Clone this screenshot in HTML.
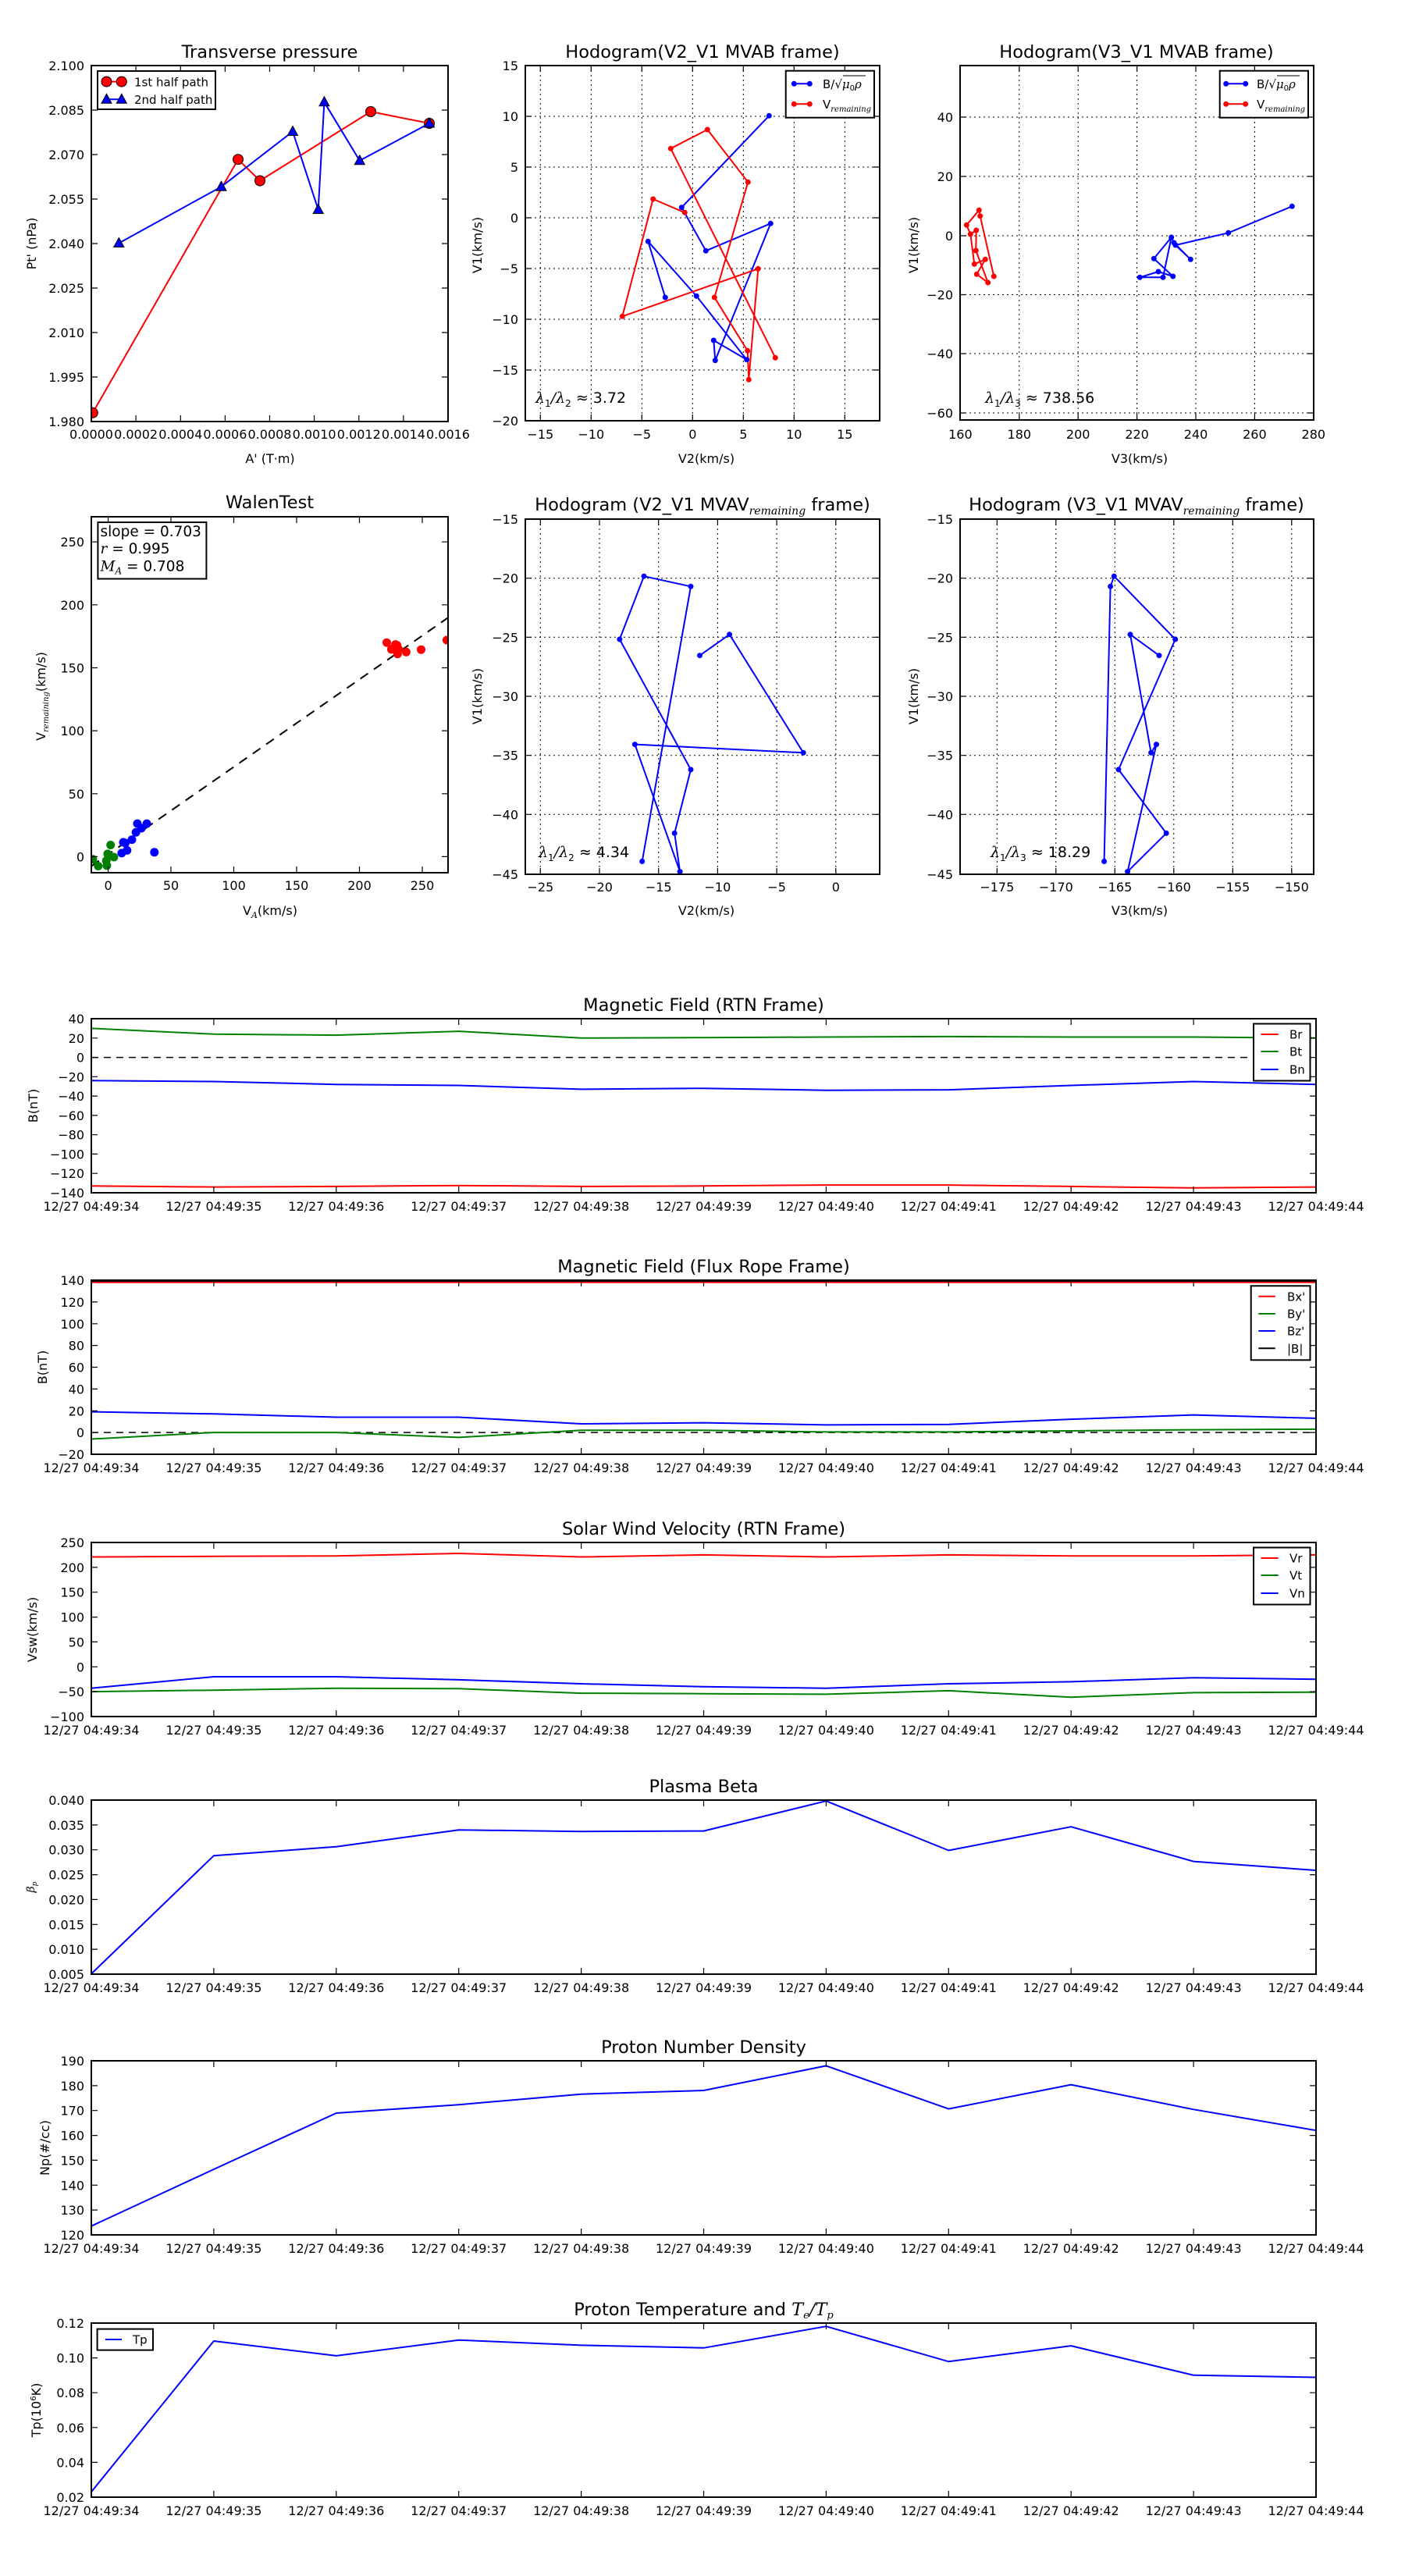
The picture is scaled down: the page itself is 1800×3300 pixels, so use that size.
<!DOCTYPE html>
<html><head><meta charset="utf-8"><style>
html,body{margin:0;padding:0;background:#fff}
svg{display:block}
text{font-family:"DejaVu Sans","Liberation Sans",sans-serif;fill:#000}
.t{font-size:22.5px;text-anchor:middle}
.k{font-size:16px}
.kx{font-size:16px;text-anchor:middle}
.ky{font-size:16px;text-anchor:end}
.lb{font-size:16px;text-anchor:middle}
.m{font-family:"DejaVu Serif","Liberation Serif",serif;font-style:italic}
.ax{fill:none;stroke:#000;stroke-width:2}
.tk{fill:none;stroke:#000;stroke-width:1.2}
.gr{fill:none;stroke:#000;stroke-width:1;stroke-dasharray:2,4}
.ln{fill:none;stroke-width:2;stroke-linejoin:round}
</style></head><body>
<svg width="1800" height="3300" viewBox="0 0 1800 3300" xmlns="http://www.w3.org/2000/svg">
<defs>
<clipPath id="c1"><rect x="117" y="84" width="457" height="456"/></clipPath>
<clipPath id="c4"><rect x="117" y="662" width="457" height="456"/></clipPath>
</defs>

<!-- ============ Plot 1: Transverse pressure ============ -->
<text class="t" x="345.5" y="74">Transverse pressure</text>
<g clip-path="url(#c1)">
<polyline class="ln" stroke="#f00" points="118.8,528.8 305,204.2 333,231.5 475,143 550,158"/>
<polyline class="ln" stroke="#00f" points="152.3,311.5 283.5,239.2 375,168.5 407.7,268.5 415.4,130.8 460.8,205.8 550,158"/>
<g fill="#f00" stroke="#000" stroke-width="1">
<circle cx="118.8" cy="528.8" r="6.5"/><circle cx="305" cy="204.2" r="6.5"/><circle cx="333" cy="231.5" r="6.5"/><circle cx="475" cy="143" r="6.5"/><circle cx="550" cy="158" r="6.5"/>
</g>
<g fill="#00f" stroke="#000" stroke-width="1">
<path d="M152.3,304.5l6.5,12h-13z"/><path d="M283.5,232.2l6.5,12h-13z"/><path d="M375,161.5l6.5,12h-13z"/><path d="M407.7,261.5l6.5,12h-13z"/><path d="M415.4,123.8l6.5,12h-13z"/><path d="M460.8,198.8l6.5,12h-13z"/><path d="M550,151l6.5,12h-13z"/>
</g>
</g>
<rect class="ax" x="117" y="84" width="457" height="456"/>
<path class="tk" d="M174.1,84v8M231.3,84v8M288.4,84v8M345.5,84v8M402.6,84v8M459.8,84v8M516.9,84v8M174.1,540v-8M231.3,540v-8M288.4,540v-8M345.5,540v-8M402.6,540v-8M459.8,540v-8M516.9,540v-8M117,141h8M117,198h8M117,255h8M117,312h8M117,369h8M117,426h8M117,483h8M574,141h-8M574,198h-8M574,255h-8M574,312h-8M574,369h-8M574,426h-8M574,483h-8"/>
<g class="ky"><text x="108" y="90" class="ky">2.100</text><text x="108" y="147" class="ky">2.085</text><text x="108" y="204" class="ky">2.070</text><text x="108" y="261" class="ky">2.055</text><text x="108" y="318" class="ky">2.040</text><text x="108" y="375" class="ky">2.025</text><text x="108" y="432" class="ky">2.010</text><text x="108" y="489" class="ky">1.995</text><text x="108" y="546" class="ky">1.980</text></g>
<text class="kx" x="117" y="562">0.0000</text><text class="kx" x="174.1" y="562">0.0002</text><text class="kx" x="231.3" y="562">0.0004</text><text class="kx" x="288.4" y="562">0.0006</text><text class="kx" x="345.5" y="562">0.0008</text><text class="kx" x="402.6" y="562">0.0010</text><text class="kx" x="459.8" y="562">0.0012</text><text class="kx" x="516.9" y="562">0.0014</text><text class="kx" x="574" y="562">0.0016</text>
<text class="lb" x="346" y="593">A' (T·m)</text>
<text class="lb" transform="translate(46,312) rotate(-90)">Pt' (nPa)</text>
<rect x="125" y="91" width="151" height="49" fill="#fff" stroke="#000" stroke-width="2"/>
<line x1="136.5" y1="104.6" x2="155.8" y2="104.6" stroke="#f00" stroke-width="2"/>
<circle cx="136.5" cy="104.6" r="6.5" fill="#f00" stroke="#000"/><circle cx="155.8" cy="104.6" r="6.5" fill="#f00" stroke="#000"/>
<line x1="136.5" y1="127.3" x2="155.8" y2="127.3" stroke="#00f" stroke-width="2"/>
<path d="M136.5,120.3l6.5,12h-13zM155.8,120.3l6.5,12h-13z" fill="#00f" stroke="#000"/>
<text class="k" x="172" y="110.5" style="font-size:15px">1st half path</text>
<text class="k" x="172" y="133" style="font-size:15px">2nd half path</text>

<!-- ============ Plot 2: Hodogram V2_V1 MVAB ============ -->
<text class="t" x="900" y="74">Hodogram(V2_V1 MVAB frame)</text>
<path class="gr" d="M692.3,84V539M757.3,84V539M822.3,84V539M887.3,84V539M952.3,84V539M1017.3,84V539M1082.3,84V539M673,149H1127M673,214H1127M673,279H1127M673,344H1127M673,409H1127M673,474H1127"/>
<polyline class="ln" stroke="#00f" points="985.3,148.3 873.3,265.7 904.3,321.3 987.3,286.3 916.3,461.7 914.3,436 956.7,460.7 892.3,379.3 830.3,309.3 852.3,381"/>
<polyline class="ln" stroke="#f00" points="877.3,272.3 836.7,255 797.3,405.3 971.3,344.3 959.3,486.3 957.7,449.3 915.3,381 958.3,233.3 906.3,166 859.3,190.3 993.3,458.3"/>
<g fill="#00f"><circle cx="985.3" cy="148.3" r="3.5"/><circle cx="873.3" cy="265.7" r="3.5"/><circle cx="904.3" cy="321.3" r="3.5"/><circle cx="987.3" cy="286.3" r="3.5"/><circle cx="916.3" cy="461.7" r="3.5"/><circle cx="914.3" cy="436" r="3.5"/><circle cx="956.7" cy="460.7" r="3.5"/><circle cx="892.3" cy="379.3" r="3.5"/><circle cx="830.3" cy="309.3" r="3.5"/><circle cx="852.3" cy="381" r="3.5"/></g>
<g fill="#f00"><circle cx="877.3" cy="272.3" r="3.5"/><circle cx="836.7" cy="255" r="3.5"/><circle cx="797.3" cy="405.3" r="3.5"/><circle cx="971.3" cy="344.3" r="3.5"/><circle cx="959.3" cy="486.3" r="3.5"/><circle cx="957.7" cy="449.3" r="3.5"/><circle cx="915.3" cy="381" r="3.5"/><circle cx="958.3" cy="233.3" r="3.5"/><circle cx="906.3" cy="166" r="3.5"/><circle cx="859.3" cy="190.3" r="3.5"/><circle cx="993.3" cy="458.3" r="3.5"/></g>
<rect class="ax" x="673" y="84" width="454" height="455"/>
<path class="tk" d="M692.3,84v8M757.3,84v8M822.3,84v8M887.3,84v8M952.3,84v8M1017.3,84v8M1082.3,84v8M692.3,539v-8M757.3,539v-8M822.3,539v-8M887.3,539v-8M952.3,539v-8M1017.3,539v-8M1082.3,539v-8M673,149h8M673,214h8M673,279h8M673,344h8M673,409h8M673,474h8M1127,149h-8M1127,214h-8M1127,279h-8M1127,344h-8M1127,409h-8M1127,474h-8"/>
<text class="ky" x="664" y="90">15</text><text class="ky" x="664" y="155">10</text><text class="ky" x="664" y="220">5</text><text class="ky" x="664" y="285">0</text><text class="ky" x="664" y="350">−5</text><text class="ky" x="664" y="415">−10</text><text class="ky" x="664" y="480">−15</text><text class="ky" x="664" y="545">−20</text>
<text class="kx" x="692.3" y="562">−15</text><text class="kx" x="757.3" y="562">−10</text><text class="kx" x="822.3" y="562">−5</text><text class="kx" x="887.3" y="562">0</text><text class="kx" x="952.3" y="562">5</text><text class="kx" x="1017.3" y="562">10</text><text class="kx" x="1082.3" y="562">15</text>
<text class="lb" x="905" y="593">V2(km/s)</text>
<text class="lb" transform="translate(617,314) rotate(-90)">V1(km/s)</text>
<text x="686" y="516" style="font-size:19px"><tspan class="m">λ</tspan><tspan style="font-size:12px" dy="5">1</tspan><tspan dy="-5" class="m">/λ</tspan><tspan style="font-size:12px" dy="5">2</tspan><tspan dy="-5"> ≈ 3.72</tspan></text>
<rect x="1006.7" y="90.7" width="113.3" height="60" fill="#fff" stroke="#000" stroke-width="2"/>
<line x1="1017.3" y1="107.3" x2="1037.3" y2="107.3" stroke="#00f" stroke-width="2"/><circle cx="1017.3" cy="107.3" r="3.5" fill="#00f"/><circle cx="1037.3" cy="107.3" r="3.5" fill="#00f"/>
<line x1="1017.3" y1="133.3" x2="1037.3" y2="133.3" stroke="#f00" stroke-width="2"/><circle cx="1017.3" cy="133.3" r="3.5" fill="#f00"/><circle cx="1037.3" cy="133.3" r="3.5" fill="#f00"/>
<text x="1054" y="113" style="font-size:15px">B/√<tspan class="m">μ</tspan><tspan style="font-size:10px" dy="3">0</tspan><tspan class="m" dy="-3">ρ</tspan></text>
<line x1="1080" y1="97" x2="1109" y2="97" stroke="#000" stroke-width="1"/>
<text x="1054" y="139" style="font-size:15px">V<tspan class="m" style="font-size:10px" dy="4">remaining</tspan></text>

<!-- ============ Plot 3: Hodogram V3_V1 MVAB ============ -->
<text class="t" x="1456" y="74">Hodogram(V3_V1 MVAB frame)</text>
<path class="gr" d="M1305.8,84V538M1381.2,84V538M1456.6,84V538M1532,84V538M1607.4,84V538M1230,150H1683M1230,226H1683M1230,302H1683M1230,377.5H1683M1230,453H1683M1230,529H1683"/>
<polyline class="ln" stroke="#00f" points="1655.3,264.3 1573.7,298.3 1506,314 1525.3,332.3 1504,311 1500.7,304 1490,355.3 1460.3,355.3 1484,348 1502.7,354 1478.3,331.3 1500.7,304"/>
<polyline class="ln" stroke="#f00" points="1273.3,354 1255.7,276.7 1254.3,269.3 1238.3,288.3 1243.3,300 1250.7,295 1250.3,321 1265.7,362 1251.3,351.3 1262.3,332.3 1248.3,338.3 1243.3,300"/>
<g fill="#00f"><circle cx="1655.3" cy="264.3" r="3.5"/><circle cx="1573.7" cy="298.3" r="3.5"/><circle cx="1506" cy="314" r="3.5"/><circle cx="1525.3" cy="332.3" r="3.5"/><circle cx="1504" cy="311" r="3.5"/><circle cx="1500.7" cy="304" r="3.5"/><circle cx="1490" cy="355.3" r="3.5"/><circle cx="1460.3" cy="355.3" r="3.5"/><circle cx="1484" cy="348" r="3.5"/><circle cx="1502.7" cy="354" r="3.5"/><circle cx="1478.3" cy="331.3" r="3.5"/></g>
<g fill="#f00"><circle cx="1273.3" cy="354" r="3.5"/><circle cx="1255.7" cy="276.7" r="3.5"/><circle cx="1254.3" cy="269.3" r="3.5"/><circle cx="1238.3" cy="288.3" r="3.5"/><circle cx="1243.3" cy="300" r="3.5"/><circle cx="1250.7" cy="295" r="3.5"/><circle cx="1250.3" cy="321" r="3.5"/><circle cx="1265.7" cy="362" r="3.5"/><circle cx="1251.3" cy="351.3" r="3.5"/><circle cx="1262.3" cy="332.3" r="3.5"/><circle cx="1248.3" cy="338.3" r="3.5"/></g>
<rect class="ax" x="1230" y="84" width="453" height="454"/>
<path class="tk" d="M1305.8,84v8M1381.2,84v8M1456.6,84v8M1532,84v8M1607.4,84v8M1305.8,538v-8M1381.2,538v-8M1456.6,538v-8M1532,538v-8M1607.4,538v-8M1230,150h8M1230,226h8M1230,302h8M1230,377.5h8M1230,453h8M1230,529h8M1683,150h-8M1683,226h-8M1683,302h-8M1683,377.5h-8M1683,453h-8M1683,529h-8"/>
<text class="ky" x="1221" y="156">40</text><text class="ky" x="1221" y="232">20</text><text class="ky" x="1221" y="308">0</text><text class="ky" x="1221" y="383.5">−20</text><text class="ky" x="1221" y="459">−40</text><text class="ky" x="1221" y="535">−60</text>
<text class="kx" x="1230.4" y="562">160</text><text class="kx" x="1305.8" y="562">180</text><text class="kx" x="1381.2" y="562">200</text><text class="kx" x="1456.6" y="562">220</text><text class="kx" x="1532" y="562">240</text><text class="kx" x="1607.4" y="562">260</text><text class="kx" x="1682.8" y="562">280</text>
<text class="lb" x="1460" y="593">V3(km/s)</text>
<text class="lb" transform="translate(1176,314) rotate(-90)">V1(km/s)</text>
<text x="1262" y="516" style="font-size:19px"><tspan class="m">λ</tspan><tspan style="font-size:12px" dy="5">1</tspan><tspan dy="-5" class="m">/λ</tspan><tspan style="font-size:12px" dy="5">3</tspan><tspan dy="-5"> ≈ 738.56</tspan></text>
<rect x="1562.7" y="90.7" width="113.3" height="60" fill="#fff" stroke="#000" stroke-width="2"/>
<line x1="1570.7" y1="107.3" x2="1595.7" y2="107.3" stroke="#00f" stroke-width="2"/><circle cx="1570.7" cy="107.3" r="3.5" fill="#00f"/><circle cx="1595.7" cy="107.3" r="3.5" fill="#00f"/>
<line x1="1570.7" y1="133.3" x2="1595.7" y2="133.3" stroke="#f00" stroke-width="2"/><circle cx="1570.7" cy="133.3" r="3.5" fill="#f00"/><circle cx="1595.7" cy="133.3" r="3.5" fill="#f00"/>
<text x="1610" y="113" style="font-size:15px">B/√<tspan class="m">μ</tspan><tspan style="font-size:10px" dy="3">0</tspan><tspan class="m" dy="-3">ρ</tspan></text>
<line x1="1636" y1="97" x2="1665" y2="97" stroke="#000" stroke-width="1"/>
<text x="1610" y="139" style="font-size:15px">V<tspan class="m" style="font-size:10px" dy="4">remaining</tspan></text>

<!-- ============ Plot 4: WalenTest ============ -->
<text class="t" x="345.5" y="651">WalenTest</text>
<g clip-path="url(#c4)">
<line x1="117" y1="1109.5" x2="573.4" y2="791.7" stroke="#000" stroke-width="2" stroke-dasharray="12,9"/>
<g fill="#f00"><circle cx="495.5" cy="823.2" r="5.5"/><circle cx="501.4" cy="831.8" r="5.5"/><circle cx="506.6" cy="825.6" r="5.5"/><circle cx="508.7" cy="826.6" r="5.5"/><circle cx="510.7" cy="831.8" r="5.5"/><circle cx="509.4" cy="837.7" r="5.5"/><circle cx="520.4" cy="835.3" r="5.5"/><circle cx="539.5" cy="832.2" r="5.5"/><circle cx="572.4" cy="820" r="5.5"/><circle cx="506" cy="830" r="5.5"/></g>
<g fill="#00f"><circle cx="176" cy="1055.1" r="5.5"/><circle cx="188.1" cy="1055.1" r="5.5"/><circle cx="181.2" cy="1061" r="5.5"/><circle cx="174.2" cy="1066.2" r="5.5"/><circle cx="169" cy="1075.6" r="5.5"/><circle cx="158" cy="1079" r="5.5"/><circle cx="162.8" cy="1089.4" r="5.5"/><circle cx="155.9" cy="1092.9" r="5.5"/><circle cx="197.8" cy="1091.8" r="5.5"/><circle cx="160.5" cy="1080" r="5.5"/></g>
<g fill="#008000"><circle cx="141.7" cy="1082.5" r="5.5"/><circle cx="137.9" cy="1093.9" r="5.5"/><circle cx="145.9" cy="1098" r="5.5"/><circle cx="136.2" cy="1102.6" r="5.5"/><circle cx="136.9" cy="1108.8" r="5.5"/><circle cx="125.8" cy="1109.5" r="5.5"/><circle cx="118.9" cy="1100.8" r="5.5"/><circle cx="140" cy="1096" r="5.5"/></g>
</g>
<rect class="ax" x="117" y="662" width="457" height="456"/>
<path class="tk" d="M138.6,662v8M219,662v8M299.5,662v8M380,662v8M460.5,662v8M541,662v8M138.6,1118v-8M219,1118v-8M299.5,1118v-8M380,1118v-8M460.5,1118v-8M541,1118v-8M117,1097.4h8M117,1016.8h8M117,936.1h8M117,855.5h8M117,774.8h8M117,694.2h8M574,1097.4h-8M574,1016.8h-8M574,936.1h-8M574,855.5h-8M574,774.8h-8M574,694.2h-8"/>
<text class="ky" x="108" y="1103.4">0</text><text class="ky" x="108" y="1022.8">50</text><text class="ky" x="108" y="942.1">100</text><text class="ky" x="108" y="861.5">150</text><text class="ky" x="108" y="780.8">200</text><text class="ky" x="108" y="700.2">250</text>
<text class="kx" x="138.6" y="1140">0</text><text class="kx" x="219" y="1140">50</text><text class="kx" x="299.5" y="1140">100</text><text class="kx" x="380" y="1140">150</text><text class="kx" x="460.5" y="1140">200</text><text class="kx" x="541" y="1140">250</text>
<text class="lb" x="346" y="1172">V<tspan class="m" style="font-size:11px" dy="4">A</tspan><tspan dy="-4">(km/s)</tspan></text>
<text class="lb" transform="translate(58,892) rotate(-90)">V<tspan class="m" style="font-size:10px" dy="4">remaining</tspan><tspan dy="-4">(km/s)</tspan></text>
<rect x="125.4" y="669.1" width="139" height="72.4" fill="#fff" stroke="#000" stroke-width="2"/>
<text x="128.5" y="687" style="font-size:18.5px">slope = 0.703</text>
<text x="128.5" y="709" style="font-size:18.5px"><tspan class="m">r</tspan> = 0.995</text>
<text x="128.5" y="731.4" style="font-size:18.5px"><tspan class="m">M</tspan><tspan class="m" style="font-size:12px" dy="4">A</tspan><tspan dy="-4"> = 0.708</tspan></text>

<!-- ============ Plot 5: Hodogram V2_V1 MVAV ============ -->
<text class="t" x="900" y="654">Hodogram (V2_V1 MVAV<tspan class="m" style="font-size:14px" dy="5">remaining</tspan><tspan dy="-5"> frame)</tspan></text>
<path class="gr" d="M692.3,665V1120M768,665V1120M843.7,665V1120M919.4,665V1120M995.1,665V1120M1070.8,665V1120M673,740.7H1127M673,816.3H1127M673,892H1127M673,967.7H1127M673,1043.3H1127"/>
<polyline class="ln" stroke="#00f" points="896.5,839.7 934.6,812.8 1029.2,964.3 813.4,953.6 871.1,1116.6 864.2,1067.4 885,985.9 793.8,819 825,738.2 885,751.3 822.7,1103.5"/>
<g fill="#00f"><circle cx="896.5" cy="839.7" r="3.5"/><circle cx="934.6" cy="812.8" r="3.5"/><circle cx="1029.2" cy="964.3" r="3.5"/><circle cx="813.4" cy="953.6" r="3.5"/><circle cx="871.1" cy="1116.6" r="3.5"/><circle cx="864.2" cy="1067.4" r="3.5"/><circle cx="885" cy="985.9" r="3.5"/><circle cx="793.8" cy="819" r="3.5"/><circle cx="825" cy="738.2" r="3.5"/><circle cx="885" cy="751.3" r="3.5"/><circle cx="822.7" cy="1103.5" r="3.5"/></g>
<rect class="ax" x="673" y="665" width="454" height="455"/>
<path class="tk" d="M692.3,665v8M768,665v8M843.7,665v8M919.4,665v8M995.1,665v8M1070.8,665v8M692.3,1120v-8M768,1120v-8M843.7,1120v-8M919.4,1120v-8M995.1,1120v-8M1070.8,1120v-8M673,740.7h8M673,816.3h8M673,892h8M673,967.7h8M673,1043.3h8M1127,740.7h-8M1127,816.3h-8M1127,892h-8M1127,967.7h-8M1127,1043.3h-8"/>
<text class="ky" x="664" y="671">−15</text><text class="ky" x="664" y="746.7">−20</text><text class="ky" x="664" y="822.3">−25</text><text class="ky" x="664" y="898">−30</text><text class="ky" x="664" y="973.7">−35</text><text class="ky" x="664" y="1049.3">−40</text><text class="ky" x="664" y="1126">−45</text>
<text class="kx" x="692.3" y="1142">−25</text><text class="kx" x="768" y="1142">−20</text><text class="kx" x="843.7" y="1142">−15</text><text class="kx" x="919.4" y="1142">−10</text><text class="kx" x="995.1" y="1142">−5</text><text class="kx" x="1070.8" y="1142">0</text>
<text class="lb" x="905" y="1172">V2(km/s)</text>
<text class="lb" transform="translate(617,892) rotate(-90)">V1(km/s)</text>
<text x="690" y="1098" style="font-size:19px"><tspan class="m">λ</tspan><tspan style="font-size:12px" dy="5">1</tspan><tspan dy="-5" class="m">/λ</tspan><tspan style="font-size:12px" dy="5">2</tspan><tspan dy="-5"> ≈ 4.34</tspan></text>

<!-- ============ Plot 6: Hodogram V3_V1 MVAV ============ -->
<text class="t" x="1456" y="654">Hodogram (V3_V1 MVAV<tspan class="m" style="font-size:14px" dy="5">remaining</tspan><tspan dy="-5"> frame)</tspan></text>
<path class="gr" d="M1277.3,665V1120M1352.8,665V1120M1428.3,665V1120M1503.8,665V1120M1579.3,665V1120M1654.8,665V1120M1230,740.7H1683M1230,816.3H1683M1230,892H1683M1230,967.7H1683M1230,1043.3H1683"/>
<polyline class="ln" stroke="#00f" points="1485,839.7 1448,812.8 1474.6,964.3 1481.5,953.6 1444.6,1116.6 1494.2,1067.4 1433,985.9 1505.7,819 1427.3,738.2 1422.6,751.3 1414.6,1103.5"/>
<g fill="#00f"><circle cx="1485" cy="839.7" r="3.5"/><circle cx="1448" cy="812.8" r="3.5"/><circle cx="1474.6" cy="964.3" r="3.5"/><circle cx="1481.5" cy="953.6" r="3.5"/><circle cx="1444.6" cy="1116.6" r="3.5"/><circle cx="1494.2" cy="1067.4" r="3.5"/><circle cx="1433" cy="985.9" r="3.5"/><circle cx="1505.7" cy="819" r="3.5"/><circle cx="1427.3" cy="738.2" r="3.5"/><circle cx="1422.6" cy="751.3" r="3.5"/><circle cx="1414.6" cy="1103.5" r="3.5"/></g>
<rect class="ax" x="1230" y="665" width="453" height="455"/>
<path class="tk" d="M1277.3,665v8M1352.8,665v8M1428.3,665v8M1503.8,665v8M1579.3,665v8M1654.8,665v8M1277.3,1120v-8M1352.8,1120v-8M1428.3,1120v-8M1503.8,1120v-8M1579.3,1120v-8M1654.8,1120v-8M1230,740.7h8M1230,816.3h8M1230,892h8M1230,967.7h8M1230,1043.3h8M1683,740.7h-8M1683,816.3h-8M1683,892h-8M1683,967.7h-8M1683,1043.3h-8"/>
<text class="ky" x="1221" y="671">−15</text><text class="ky" x="1221" y="746.7">−20</text><text class="ky" x="1221" y="822.3">−25</text><text class="ky" x="1221" y="898">−30</text><text class="ky" x="1221" y="973.7">−35</text><text class="ky" x="1221" y="1049.3">−40</text><text class="ky" x="1221" y="1126">−45</text>
<text class="kx" x="1277.3" y="1142">−175</text><text class="kx" x="1352.8" y="1142">−170</text><text class="kx" x="1428.3" y="1142">−165</text><text class="kx" x="1503.8" y="1142">−160</text><text class="kx" x="1579.3" y="1142">−155</text><text class="kx" x="1654.8" y="1142">−150</text>
<text class="lb" x="1460" y="1172">V3(km/s)</text>
<text class="lb" transform="translate(1176,892) rotate(-90)">V1(km/s)</text>
<text x="1269" y="1098" style="font-size:19px"><tspan class="m">λ</tspan><tspan style="font-size:12px" dy="5">1</tspan><tspan dy="-5" class="m">/λ</tspan><tspan style="font-size:12px" dy="5">3</tspan><tspan dy="-5"> ≈ 18.29</tspan></text>

<!-- ============ TS1: Magnetic Field RTN ============ -->
<text class="t" x="901.5" y="1295">Magnetic Field (RTN Frame)</text>
<line x1="117" y1="1354.6" x2="1686" y2="1354.6" stroke="#000" stroke-width="1.5" stroke-dasharray="9,7"/>
<polyline class="ln" stroke="#008000" points="117,1317.4 273.9,1324.8 430.8,1326.1 587.7,1321.1 744.6,1329.8 901.5,1329.2 1058.4,1328.5 1215.3,1327.9 1372.2,1328.5 1529.1,1328.5 1686,1329.8"/>
<polyline class="ln" stroke="#00f" points="117,1384.3 273.9,1385.5 430.8,1389.2 587.7,1390.5 744.6,1395.4 901.5,1394.2 1058.4,1396.7 1215.3,1396.1 1372.2,1390.5 1529.1,1385.5 1686,1389.2"/>
<polyline class="ln" stroke="#f00" points="117,1519.3 273.9,1520.6 430.8,1519.9 587.7,1518.7 744.6,1519.9 901.5,1519.3 1058.4,1518.1 1215.3,1518.1 1372.2,1519.9 1529.1,1521.8 1686,1520.6"/>
<rect class="ax" x="117" y="1305" width="1569" height="223"/>
<path class="tk" d="M273.9,1305v8M430.8,1305v8M587.7,1305v8M744.6,1305v8M901.5,1305v8M1058.4,1305v8M1215.3,1305v8M1372.2,1305v8M1529.1,1305v8M273.9,1528v-8M430.8,1528v-8M587.7,1528v-8M744.6,1528v-8M901.5,1528v-8M1058.4,1528v-8M1215.3,1528v-8M1372.2,1528v-8M1529.1,1528v-8M117,1329.8h8M117,1354.6h8M117,1379.3h8M117,1404.1h8M117,1428.9h8M117,1453.7h8M117,1478.4h8M117,1503.2h8M1686,1329.8h-8M1686,1354.6h-8M1686,1379.3h-8M1686,1404.1h-8M1686,1428.9h-8M1686,1453.7h-8M1686,1478.4h-8M1686,1503.2h-8"/>
<text class="ky" x="108" y="1311">40</text><text class="ky" x="108" y="1335.8">20</text><text class="ky" x="108" y="1360.6">0</text><text class="ky" x="108" y="1385.3">−20</text><text class="ky" x="108" y="1410.1">−40</text><text class="ky" x="108" y="1434.9">−60</text><text class="ky" x="108" y="1459.7">−80</text><text class="ky" x="108" y="1484.4">−100</text><text class="ky" x="108" y="1509.2">−120</text><text class="ky" x="108" y="1534">−140</text>
<g class="kx"><text class="kx" x="117" y="1551">12/27 04:49:34</text><text class="kx" x="273.9" y="1551">12/27 04:49:35</text><text class="kx" x="430.8" y="1551">12/27 04:49:36</text><text class="kx" x="587.7" y="1551">12/27 04:49:37</text><text class="kx" x="744.6" y="1551">12/27 04:49:38</text><text class="kx" x="901.5" y="1551">12/27 04:49:39</text><text class="kx" x="1058.4" y="1551">12/27 04:49:40</text><text class="kx" x="1215.3" y="1551">12/27 04:49:41</text><text class="kx" x="1372.2" y="1551">12/27 04:49:42</text><text class="kx" x="1529.1" y="1551">12/27 04:49:43</text><text class="kx" x="1686" y="1551">12/27 04:49:44</text></g>
<text class="lb" transform="translate(48,1416.5) rotate(-90)">B(nT)</text>
<rect x="1606" y="1311.5" width="72.5" height="73" fill="#fff" stroke="#000" stroke-width="2"/>
<line x1="1615.4" y1="1325" x2="1637.7" y2="1325" stroke="#f00" stroke-width="2"/><line x1="1615.4" y1="1347" x2="1637.7" y2="1347" stroke="#008000" stroke-width="2"/><line x1="1615.4" y1="1370" x2="1637.7" y2="1370" stroke="#00f" stroke-width="2"/>
<text x="1652" y="1330.5" style="font-size:15px">Br</text><text x="1652" y="1352.5" style="font-size:15px">Bt</text><text x="1652" y="1375.5" style="font-size:15px">Bn</text>

<!-- ============ TS2: Magnetic Field Flux Rope ============ -->
<text class="t" x="901.5" y="1630">Magnetic Field (Flux Rope Frame)</text>
<line x1="117" y1="1835.1" x2="1686" y2="1835.1" stroke="#000" stroke-width="1.5" stroke-dasharray="9,7"/>
<polyline class="ln" stroke="#f00" points="117,1642.8 1686,1642.8"/>
<polyline class="ln" stroke="#000" points="117,1641 1686,1641"/>
<polyline class="ln" stroke="#00f" points="117,1808.6 273.9,1811.3 430.8,1815.5 587.7,1815.5 744.6,1824 901.5,1822.6 1058.4,1825.4 1215.3,1824.7 1372.2,1818.1 1529.1,1812.6 1686,1816.9"/>
<polyline class="ln" stroke="#008000" points="117,1843.5 273.9,1835.1 430.8,1835.1 587.7,1841.4 744.6,1832.3 901.5,1832.3 1058.4,1834.4 1215.3,1834.4 1372.2,1833 1529.1,1831.6 1686,1830.9"/>
<rect class="ax" x="117" y="1640" width="1569" height="223"/>
<path class="tk" d="M273.9,1640v8M430.8,1640v8M587.7,1640v8M744.6,1640v8M901.5,1640v8M1058.4,1640v8M1215.3,1640v8M1372.2,1640v8M1529.1,1640v8M273.9,1863v-8M430.8,1863v-8M587.7,1863v-8M744.6,1863v-8M901.5,1863v-8M1058.4,1863v-8M1215.3,1863v-8M1372.2,1863v-8M1529.1,1863v-8M117,1667.9h8M117,1695.8h8M117,1723.6h8M117,1751.5h8M117,1779.4h8M117,1807.3h8M117,1835.1h8M1686,1667.9h-8M1686,1695.8h-8M1686,1723.6h-8M1686,1751.5h-8M1686,1779.4h-8M1686,1807.3h-8M1686,1835.1h-8"/>
<text class="ky" x="108" y="1646">140</text><text class="ky" x="108" y="1673.9">120</text><text class="ky" x="108" y="1701.8">100</text><text class="ky" x="108" y="1729.6">80</text><text class="ky" x="108" y="1757.5">60</text><text class="ky" x="108" y="1785.4">40</text><text class="ky" x="108" y="1813.3">20</text><text class="ky" x="108" y="1841.1">0</text><text class="ky" x="108" y="1869">−20</text>
<text class="kx" x="117" y="1886">12/27 04:49:34</text><text class="kx" x="273.9" y="1886">12/27 04:49:35</text><text class="kx" x="430.8" y="1886">12/27 04:49:36</text><text class="kx" x="587.7" y="1886">12/27 04:49:37</text><text class="kx" x="744.6" y="1886">12/27 04:49:38</text><text class="kx" x="901.5" y="1886">12/27 04:49:39</text><text class="kx" x="1058.4" y="1886">12/27 04:49:40</text><text class="kx" x="1215.3" y="1886">12/27 04:49:41</text><text class="kx" x="1372.2" y="1886">12/27 04:49:42</text><text class="kx" x="1529.1" y="1886">12/27 04:49:43</text><text class="kx" x="1686" y="1886">12/27 04:49:44</text>
<text class="lb" transform="translate(60,1751.5) rotate(-90)">B(nT)</text>
<rect x="1602.7" y="1647.3" width="75.8" height="95" fill="#fff" stroke="#000" stroke-width="2"/>
<line x1="1612.3" y1="1660.8" x2="1633.8" y2="1660.8" stroke="#f00" stroke-width="2"/><line x1="1612.3" y1="1683" x2="1633.8" y2="1683" stroke="#008000" stroke-width="2"/><line x1="1612.3" y1="1705" x2="1633.8" y2="1705" stroke="#00f" stroke-width="2"/><line x1="1612.3" y1="1727.3" x2="1633.8" y2="1727.3" stroke="#000" stroke-width="2"/>
<text x="1649" y="1666.3" style="font-size:15px">Bx'</text><text x="1649" y="1688.5" style="font-size:15px">By'</text><text x="1649" y="1710.5" style="font-size:15px">Bz'</text><text x="1649" y="1732.8" style="font-size:15px">|B|</text>

<!-- ============ TS3: Solar Wind Velocity ============ -->
<text class="t" x="901.5" y="1966">Solar Wind Velocity (RTN Frame)</text>
<polyline class="ln" stroke="#f00" points="117,1994.5 273.9,1993.8 430.8,1993.2 587.7,1990 744.6,1994.5 901.5,1991.9 1058.4,1994.5 1215.3,1991.9 1372.2,1993.2 1529.1,1993.2 1686,1991.9"/>
<polyline class="ln" stroke="#008000" points="117,2167.1 273.9,2165.2 430.8,2162.7 587.7,2163.3 744.6,2169.1 901.5,2169.7 1058.4,2170.4 1215.3,2165.9 1372.2,2174.2 1529.1,2168.4 1686,2167.8"/>
<polyline class="ln" stroke="#00f" points="117,2162.7 273.9,2148 430.8,2148 587.7,2151.9 744.6,2157 901.5,2160.8 1058.4,2162.7 1215.3,2157 1372.2,2154.4 1529.1,2149.3 1686,2151.2"/>
<rect class="ax" x="117" y="1976" width="1569" height="223"/>
<path class="tk" d="M273.9,1976v8M430.8,1976v8M587.7,1976v8M744.6,1976v8M901.5,1976v8M1058.4,1976v8M1215.3,1976v8M1372.2,1976v8M1529.1,1976v8M273.9,2199v-8M430.8,2199v-8M587.7,2199v-8M744.6,2199v-8M901.5,2199v-8M1058.4,2199v-8M1215.3,2199v-8M1372.2,2199v-8M1529.1,2199v-8M117,2007.9h8M117,2039.7h8M117,2071.6h8M117,2103.4h8M117,2135.3h8M117,2167.1h8M1686,2007.9h-8M1686,2039.7h-8M1686,2071.6h-8M1686,2103.4h-8M1686,2135.3h-8M1686,2167.1h-8"/>
<text class="ky" x="108" y="1982">250</text><text class="ky" x="108" y="2013.9">200</text><text class="ky" x="108" y="2045.7">150</text><text class="ky" x="108" y="2077.6">100</text><text class="ky" x="108" y="2109.4">50</text><text class="ky" x="108" y="2141.3">0</text><text class="ky" x="108" y="2173.1">−50</text><text class="ky" x="108" y="2205">−100</text>
<text class="kx" x="117" y="2222">12/27 04:49:34</text><text class="kx" x="273.9" y="2222">12/27 04:49:35</text><text class="kx" x="430.8" y="2222">12/27 04:49:36</text><text class="kx" x="587.7" y="2222">12/27 04:49:37</text><text class="kx" x="744.6" y="2222">12/27 04:49:38</text><text class="kx" x="901.5" y="2222">12/27 04:49:39</text><text class="kx" x="1058.4" y="2222">12/27 04:49:40</text><text class="kx" x="1215.3" y="2222">12/27 04:49:41</text><text class="kx" x="1372.2" y="2222">12/27 04:49:42</text><text class="kx" x="1529.1" y="2222">12/27 04:49:43</text><text class="kx" x="1686" y="2222">12/27 04:49:44</text>
<text class="lb" transform="translate(47,2087.5) rotate(-90)">Vsw(km/s)</text>
<rect x="1606" y="1982.5" width="72.5" height="73" fill="#fff" stroke="#000" stroke-width="2"/>
<line x1="1615.4" y1="1996" x2="1637.7" y2="1996" stroke="#f00" stroke-width="2"/><line x1="1615.4" y1="2018" x2="1637.7" y2="2018" stroke="#008000" stroke-width="2"/><line x1="1615.4" y1="2041" x2="1637.7" y2="2041" stroke="#00f" stroke-width="2"/>
<text x="1652" y="2001.5" style="font-size:15px">Vr</text><text x="1652" y="2023.5" style="font-size:15px">Vt</text><text x="1652" y="2046.5" style="font-size:15px">Vn</text>

<!-- ============ TS4: Plasma Beta ============ -->
<text class="t" x="901.5" y="2296">Plasma Beta</text>
<polyline class="ln" stroke="#00f" points="117,2528.6 273.9,2377.2 430.8,2365.8 587.7,2344.2 744.6,2346.2 901.5,2345.6 1058.4,2307.2 1215.3,2370.5 1372.2,2340.2 1529.1,2384.6 1686,2396"/>
<rect class="ax" x="117" y="2306" width="1569" height="223"/>
<path class="tk" d="M273.9,2306v8M430.8,2306v8M587.7,2306v8M744.6,2306v8M901.5,2306v8M1058.4,2306v8M1215.3,2306v8M1372.2,2306v8M1529.1,2306v8M273.9,2529v-8M430.8,2529v-8M587.7,2529v-8M744.6,2529v-8M901.5,2529v-8M1058.4,2529v-8M1215.3,2529v-8M1372.2,2529v-8M1529.1,2529v-8M117,2337.9h8M117,2369.7h8M117,2401.6h8M117,2433.4h8M117,2465.3h8M117,2497.1h8M1686,2337.9h-8M1686,2369.7h-8M1686,2401.6h-8M1686,2433.4h-8M1686,2465.3h-8M1686,2497.1h-8"/>
<text class="ky" x="108" y="2312">0.040</text><text class="ky" x="108" y="2343.9">0.035</text><text class="ky" x="108" y="2375.7">0.030</text><text class="ky" x="108" y="2407.6">0.025</text><text class="ky" x="108" y="2439.4">0.020</text><text class="ky" x="108" y="2471.3">0.015</text><text class="ky" x="108" y="2503.1">0.010</text><text class="ky" x="108" y="2535">0.005</text>
<text class="kx" x="117" y="2552">12/27 04:49:34</text><text class="kx" x="273.9" y="2552">12/27 04:49:35</text><text class="kx" x="430.8" y="2552">12/27 04:49:36</text><text class="kx" x="587.7" y="2552">12/27 04:49:37</text><text class="kx" x="744.6" y="2552">12/27 04:49:38</text><text class="kx" x="901.5" y="2552">12/27 04:49:39</text><text class="kx" x="1058.4" y="2552">12/27 04:49:40</text><text class="kx" x="1215.3" y="2552">12/27 04:49:41</text><text class="kx" x="1372.2" y="2552">12/27 04:49:42</text><text class="kx" x="1529.1" y="2552">12/27 04:49:43</text><text class="kx" x="1686" y="2552">12/27 04:49:44</text>
<text class="lb" transform="translate(44,2417.5) rotate(-90)" style="font-size:14px"><tspan class="m">β</tspan><tspan class="m" style="font-size:9px" dy="3">p</tspan></text>

<!-- ============ TS5: Proton Number Density ============ -->
<text class="t" x="901.5" y="2630">Proton Number Density</text>
<polyline class="ln" stroke="#00f" points="117,2851.7 273.9,2779 430.8,2707 587.7,2696.2 744.6,2682.7 901.5,2678 1058.4,2646.4 1215.3,2701.6 1372.2,2670.6 1529.1,2702.3 1686,2729.2"/>
<rect class="ax" x="117" y="2640" width="1569" height="223"/>
<path class="tk" d="M273.9,2640v8M430.8,2640v8M587.7,2640v8M744.6,2640v8M901.5,2640v8M1058.4,2640v8M1215.3,2640v8M1372.2,2640v8M1529.1,2640v8M273.9,2863v-8M430.8,2863v-8M587.7,2863v-8M744.6,2863v-8M901.5,2863v-8M1058.4,2863v-8M1215.3,2863v-8M1372.2,2863v-8M1529.1,2863v-8M117,2671.9h8M117,2703.7h8M117,2735.6h8M117,2767.4h8M117,2799.3h8M117,2831.1h8M1686,2671.9h-8M1686,2703.7h-8M1686,2735.6h-8M1686,2767.4h-8M1686,2799.3h-8M1686,2831.1h-8"/>
<text class="ky" x="108" y="2646">190</text><text class="ky" x="108" y="2677.9">180</text><text class="ky" x="108" y="2709.7">170</text><text class="ky" x="108" y="2741.6">160</text><text class="ky" x="108" y="2773.4">150</text><text class="ky" x="108" y="2805.3">140</text><text class="ky" x="108" y="2837.1">130</text><text class="ky" x="108" y="2869">120</text>
<text class="kx" x="117" y="2886">12/27 04:49:34</text><text class="kx" x="273.9" y="2886">12/27 04:49:35</text><text class="kx" x="430.8" y="2886">12/27 04:49:36</text><text class="kx" x="587.7" y="2886">12/27 04:49:37</text><text class="kx" x="744.6" y="2886">12/27 04:49:38</text><text class="kx" x="901.5" y="2886">12/27 04:49:39</text><text class="kx" x="1058.4" y="2886">12/27 04:49:40</text><text class="kx" x="1215.3" y="2886">12/27 04:49:41</text><text class="kx" x="1372.2" y="2886">12/27 04:49:42</text><text class="kx" x="1529.1" y="2886">12/27 04:49:43</text><text class="kx" x="1686" y="2886">12/27 04:49:44</text>
<text class="lb" transform="translate(63,2751.5) rotate(-90)">Np(#/cc)</text>

<!-- ============ TS6: Proton Temperature ============ -->
<text class="t" x="901.5" y="2966">Proton Temperature and <tspan class="m">T</tspan><tspan class="m" style="font-size:13px" dy="4">e</tspan><tspan class="m" dy="-4">/T</tspan><tspan class="m" style="font-size:13px" dy="4">p</tspan></text>
<polyline class="ln" stroke="#00f" points="117,3192.2 273.9,2999 430.8,3017.9 587.7,2997.7 744.6,3004.4 901.5,3007.8 1058.4,2980.2 1215.3,3025.3 1372.2,3005.1 1529.1,3042.8 1686,3045.5"/>
<rect class="ax" x="117" y="2976" width="1569" height="223"/>
<path class="tk" d="M273.9,2976v8M430.8,2976v8M587.7,2976v8M744.6,2976v8M901.5,2976v8M1058.4,2976v8M1215.3,2976v8M1372.2,2976v8M1529.1,2976v8M273.9,3199v-8M430.8,3199v-8M587.7,3199v-8M744.6,3199v-8M901.5,3199v-8M1058.4,3199v-8M1215.3,3199v-8M1372.2,3199v-8M1529.1,3199v-8M117,3020.6h8M117,3065.2h8M117,3109.8h8M117,3154.4h8M1686,3020.6h-8M1686,3065.2h-8M1686,3109.8h-8M1686,3154.4h-8"/>
<text class="ky" x="108" y="2982">0.12</text><text class="ky" x="108" y="3026.6">0.10</text><text class="ky" x="108" y="3071.2">0.08</text><text class="ky" x="108" y="3115.8">0.06</text><text class="ky" x="108" y="3160.4">0.04</text><text class="ky" x="108" y="3205">0.02</text>
<text class="kx" x="117" y="3222">12/27 04:49:34</text><text class="kx" x="273.9" y="3222">12/27 04:49:35</text><text class="kx" x="430.8" y="3222">12/27 04:49:36</text><text class="kx" x="587.7" y="3222">12/27 04:49:37</text><text class="kx" x="744.6" y="3222">12/27 04:49:38</text><text class="kx" x="901.5" y="3222">12/27 04:49:39</text><text class="kx" x="1058.4" y="3222">12/27 04:49:40</text><text class="kx" x="1215.3" y="3222">12/27 04:49:41</text><text class="kx" x="1372.2" y="3222">12/27 04:49:42</text><text class="kx" x="1529.1" y="3222">12/27 04:49:43</text><text class="kx" x="1686" y="3222">12/27 04:49:44</text>
<text class="lb" transform="translate(52,3087.5) rotate(-90)">Tp(10<tspan style="font-size:10px" dy="-6">6</tspan><tspan dy="6">K)</tspan></text>
<rect x="124.6" y="2983.6" width="71.4" height="27" fill="#fff" stroke="#000" stroke-width="2"/>
<line x1="135" y1="2997" x2="156" y2="2997" stroke="#00f" stroke-width="2"/>
<text x="170" y="3002.5" style="font-size:15px">Tp</text>
</svg>
</body></html>
